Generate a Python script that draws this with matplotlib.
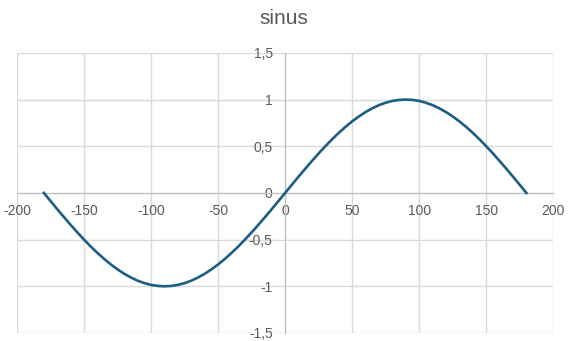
import matplotlib.pyplot as plt

plt.rcParams['font.family'] = ['Liberation Sans', 'DejaVu Sans']

# angle in degrees (every 5) and the sine value
angles = [-180, -175, -170, -165, -160, -155, -150, -145, -140, -135,
          -130, -125, -120, -115, -110, -105, -100, -95, -90,
          -85, -80, -75, -70, -65, -60, -55, -50, -45,
          -40, -35, -30, -25, -20, -15, -10, -5, 0,
          5, 10, 15, 20, 25, 30, 35, 40, 45,
          50, 55, 60, 65, 70, 75, 80, 85, 90,
          95, 100, 105, 110, 115, 120, 125, 130, 135,
          140, 145, 150, 155, 160, 165, 170, 175, 180]
sinus = [0.0, -0.087, -0.174, -0.259, -0.342, -0.423, -0.5, -0.574, -0.643, -0.707,
         -0.766, -0.819, -0.866, -0.906, -0.940, -0.966, -0.985, -0.996, -1.0,
         -0.996, -0.985, -0.966, -0.940, -0.906, -0.866, -0.819, -0.766, -0.707,
         -0.643, -0.574, -0.5, -0.423, -0.342, -0.259, -0.174, -0.087, 0.0,
         0.087, 0.174, 0.259, 0.342, 0.423, 0.5, 0.574, 0.643, 0.707,
         0.766, 0.819, 0.866, 0.906, 0.940, 0.966, 0.985, 0.996, 1.0,
         0.996, 0.985, 0.966, 0.940, 0.906, 0.866, 0.819, 0.766, 0.707,
         0.643, 0.574, 0.5, 0.423, 0.342, 0.259, 0.174, 0.087, 0.0]

x_ticks = [-200, -150, -100, -50, 0, 50, 100, 150, 200]
y_ticks = [-1.5, -1, -0.5, 0, 0.5, 1, 1.5]
y_labels = ['-1,5', '-1', '-0,5', '0', '0,5', '1', '1,5']

grid_col = '#d9d9d9'
text_col = '#595959'

fig = plt.figure(figsize=(5.68, 3.41), dpi=100)
ax = fig.add_axes([0.030, 0.0235, 0.944, 0.8215])

ax.plot(angles, sinus, color='#1b5e82', linewidth=1.9, zorder=3)

ax.set_xlim(-200, 200)
ax.set_ylim(-1.5, 1.5)
ax.set_xticks(x_ticks)
ax.set_xticklabels([str(v) for v in x_ticks])
ax.set_yticks(y_ticks)
ax.set_yticklabels(y_labels)

ax.grid(True, color=grid_col, linewidth=1)
ax.set_axisbelow(True)

for side in ['top', 'right']:
    ax.spines[side].set_visible(False)
ax.spines['left'].set_position(('data', 0))
ax.spines['bottom'].set_position(('data', 0))
ax.spines['left'].set_color('#bfbfbf')
ax.spines['bottom'].set_color('#bfbfbf')

ax.tick_params(axis='both', length=0, labelsize=10, labelcolor=text_col)
ax.tick_params(axis='x', pad=8)
ax.tick_params(axis='y', pad=9)

fig.suptitle('sinus', x=0.5, y=0.975, fontsize=15, color=text_col)

fig.savefig('out.png', dpi=100)
